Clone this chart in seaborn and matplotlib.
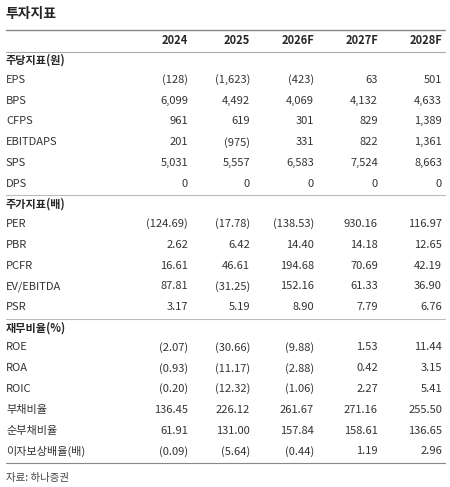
import matplotlib
matplotlib.use('Agg')
import matplotlib.pyplot as plt
import seaborn as sns

sns.set_style('white')
plt.rcParams['font.family'] = ['Noto Sans CJK KR', 'DejaVu Sans']

years = ['2024', '2025', '2026F', '2027F', '2028F']

sections = ['주당지표(원)', '주가지표(배)', '재무비율(%)']
labels_per_share = ['EPS', 'BPS', 'CFPS', 'EBITDAPS', 'SPS', 'DPS']
values_per_share = [
    ['(128)', '(1,623)', '(423)', '63', '501'],
    ['6,099', '4,492', '4,069', '4,132', '4,633'],
    ['961', '619', '301', '829', '1,389'],
    ['201', '(975)', '331', '822', '1,361'],
    ['5,031', '5,557', '6,583', '7,524', '8,663'],
    ['0', '0', '0', '0', '0'],
]
labels_valuation = ['PER', 'PBR', 'PCFR', 'EV/EBITDA', 'PSR']
values_valuation = [
    ['(124.69)', '(17.78)', '(138.53)', '930.16', '116.97'],
    ['2.62', '6.42', '14.40', '14.18', '12.65'],
    ['16.61', '46.61', '194.68', '70.69', '42.19'],
    ['87.81', '(31.25)', '152.16', '61.33', '36.90'],
    ['3.17', '5.19', '8.90', '7.79', '6.76'],
]
labels_ratio = ['ROE', 'ROA', 'ROIC', '부채비율', '순부채비율', '이자보상배율(배)']
values_ratio = [
    ['(2.07)', '(30.66)', '(9.88)', '1.53', '11.44'],
    ['(0.93)', '(11.17)', '(2.88)', '0.42', '3.15'],
    ['(0.20)', '(12.32)', '(1.06)', '2.27', '5.41'],
    ['136.45', '226.12', '261.67', '271.16', '255.50'],
    ['61.91', '131.00', '157.84', '158.61', '136.65'],
    ['(0.09)', '(5.64)', '(0.44)', '1.19', '2.96'],
]

fig = plt.figure(figsize=(4.5, 4.87), dpi=100)
ax = fig.add_axes([0, 0, 1, 1])
ax.set_xlim(0, 450)
ax.set_ylim(487, 0)
ax.axis('off')

col_x = [188, 250, 314, 378, 442]
left = 6
row_h = 20.8
fs = 8

ax.text(left, 14, '투자지표', fontsize=10, fontweight='bold', va='center')
ax.plot([left, 445], [30, 30], color='#888888', lw=1)
for x, y in zip(col_x, years):
    ax.text(x, 41, y, fontsize=fs, fontweight='bold', ha='right', va='center')
ax.plot([left, 445], [52, 52], color='#aaaaaa', lw=0.8)

y = 60
blocks = [(labels_per_share, values_per_share),
          (labels_valuation, values_valuation),
          (labels_ratio, values_ratio)]
for i, (sec, (labs, vals)) in enumerate(zip(sections, blocks)):
    ax.text(left, y, sec, fontsize=fs, fontweight='bold', va='center')
    y += row_h - 1
    for lab, row in zip(labs, vals):
        ax.text(left, y, lab, fontsize=fs, va='center', color='#333333')
        for x, v in zip(col_x, row):
            ax.text(x, y, v, fontsize=fs, ha='right', va='center', color='#333333')
        y += row_h
    line_y = y - row_h / 2 + 1
    ax.plot([left, 445], [line_y, line_y], color='#888888' if i == 2 else '#bbbbbb', lw=0.8)
    y = line_y + 9

ax.text(left, 478, '자료: 하나증권', fontsize=7.5, va='center', color='#444444')

fig.savefig('out.png', dpi=100)
